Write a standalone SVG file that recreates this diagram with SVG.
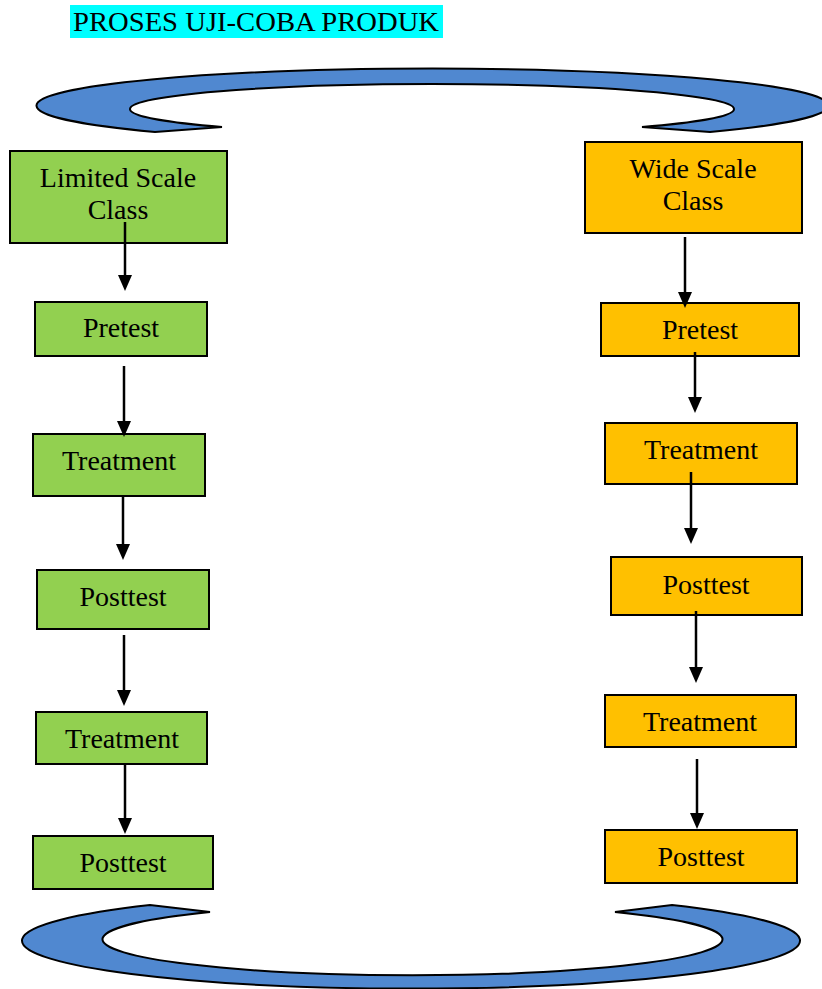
<svg xmlns="http://www.w3.org/2000/svg" width="822" height="989" viewBox="0 0 822 989">
  <style>
    .t { font-family: "Liberation Serif", "Times New Roman", serif; font-size: 28px; fill: #000; text-anchor: middle; }
    .g rect { fill: #92D050; stroke: #000; stroke-width: 2; }
    .o rect { fill: #FFC000; stroke: #000; stroke-width: 2; }
    .arc { fill: #5088D0; stroke: #000; stroke-width: 2; stroke-linejoin: miter; }
    .c line { stroke: #000; stroke-width: 2.5; }
  </style>
  <defs>
    <marker id="ah" viewBox="0 0 16 14" refX="8" refY="7" markerWidth="16" markerHeight="14" markerUnits="userSpaceOnUse" orient="auto">
      <path d="M0,0 L16,7 L0,14 Z" fill="#000"/>
    </marker>
  </defs>
  <rect width="822" height="989" fill="#fff"/>

  <g id="title">
    <rect x="70" y="5" width="373" height="33" fill="#00FFFF"/>
    <text x="256" y="31" style="font-family: 'Liberation Serif', 'Times New Roman', serif; font-size: 28px; text-anchor: middle;" textLength="366" lengthAdjust="spacingAndGlyphs">PROSES UJI-COBA PRODUK</text>
  </g>

  <g id="top-arc">
    <path class="arc" d="M155,132 A396,37 0 1 1 710,132 L642,127 A302,25 0 1 0 222,127 Z"/>
  </g>
  <g id="bottom-arc">
    <path class="arc" d="M150,905 A389,48 0 1 0 672,905 L615,912 A310,36 0 1 1 210,912 Z"/>
  </g>

  <g id="limited" class="g">
    <rect x="10" y="151" width="217" height="92"/>
    <text class="t" x="118" y="187">Limited Scale</text>
    <text class="t" x="118" y="219">Class</text>
  </g>
  <g id="l-pretest" class="g">
    <rect x="35" y="302" width="172" height="54"/>
    <text class="t" x="121" y="337">Pretest</text>
  </g>
  <g id="l-treatment1" class="g">
    <rect x="33" y="434" width="172" height="62"/>
    <text class="t" x="119" y="470">Treatment</text>
  </g>
  <g id="l-posttest1" class="g">
    <rect x="37" y="570" width="172" height="59"/>
    <text class="t" x="123" y="606">Posttest</text>
  </g>
  <g id="l-treatment2" class="g">
    <rect x="36" y="712" width="171" height="52"/>
    <text class="t" x="122" y="748">Treatment</text>
  </g>
  <g id="l-posttest2" class="g">
    <rect x="33" y="836" width="180" height="53"/>
    <text class="t" x="123" y="872">Posttest</text>
  </g>

  <g id="wide" class="o">
    <rect x="585" y="142" width="217" height="91"/>
    <text class="t" x="693" y="178">Wide Scale</text>
    <text class="t" x="693" y="210">Class</text>
  </g>
  <g id="w-pretest" class="o">
    <rect x="601" y="303" width="198" height="53"/>
    <text class="t" x="700" y="339">Pretest</text>
  </g>
  <g id="w-treatment1" class="o">
    <rect x="605" y="423" width="192" height="61"/>
    <text class="t" x="701" y="459">Treatment</text>
  </g>
  <g id="w-posttest1" class="o">
    <rect x="611" y="557" width="191" height="58"/>
    <text class="t" x="706" y="594">Posttest</text>
  </g>
  <g id="w-treatment2" class="o">
    <rect x="605" y="695" width="191" height="52"/>
    <text class="t" x="700" y="731">Treatment</text>
  </g>
  <g id="w-posttest2" class="o">
    <rect x="605" y="830" width="192" height="53"/>
    <text class="t" x="701" y="866">Posttest</text>
  </g>

  <g id="connectors" class="c">
    <line x1="125" y1="222" x2="125" y2="283" marker-end="url(#ah)"/>
    <line x1="124" y1="366" x2="124" y2="429" marker-end="url(#ah)"/>
    <line x1="123" y1="497" x2="123" y2="552" marker-end="url(#ah)"/>
    <line x1="124" y1="635" x2="124" y2="698" marker-end="url(#ah)"/>
    <line x1="125" y1="765" x2="125" y2="826" marker-end="url(#ah)"/>
    <line x1="685" y1="237" x2="685" y2="300" marker-end="url(#ah)"/>
    <line x1="695" y1="352" x2="695" y2="405" marker-end="url(#ah)"/>
    <line x1="691" y1="472" x2="691" y2="536" marker-end="url(#ah)"/>
    <line x1="696" y1="611" x2="696" y2="675" marker-end="url(#ah)"/>
    <line x1="697" y1="759" x2="697" y2="821" marker-end="url(#ah)"/>
  </g>
</svg>
